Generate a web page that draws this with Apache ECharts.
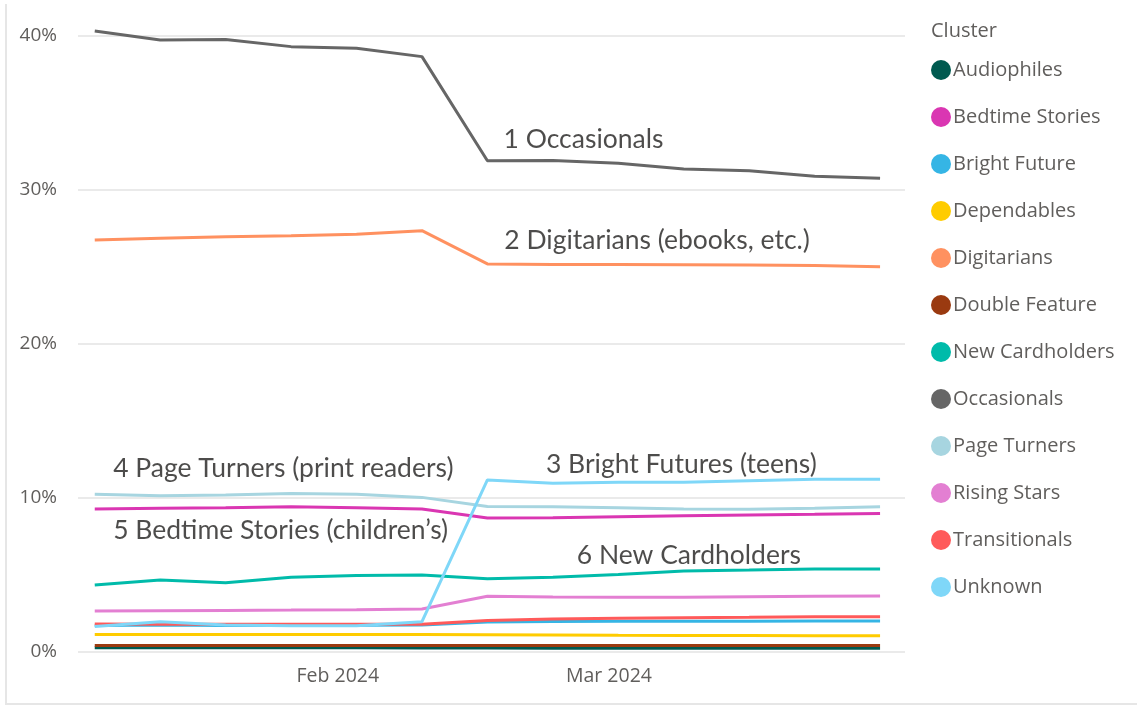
<!DOCTYPE html>
<html>
<head>
<meta charset="utf-8">
<script src="https://cdn.jsdelivr.net/npm/echarts@6/dist/echarts.min.js"></script>
<style>
  html, body { margin: 0; padding: 0; background: #fff; }
  #chart { width: 1137px; height: 706px; }
</style>
</head>
<body>
<div id="chart"></div>
<script>
// weekly dates
const weeks = ['2024-01-06', '2024-01-13', '2024-01-20', '2024-01-27', '2024-02-03', '2024-02-10',
    '2024-02-17', '2024-02-24', '2024-03-02', '2024-03-09', '2024-03-16', '2024-03-23', '2024-03-30'];

const clusters = ['Audiophiles', 'Bedtime Stories', 'Bright Future', 'Dependables', 'Digitarians',
    'Double Feature', 'New Cardholders', 'Occasionals', 'Page Turners', 'Rising Stars', 'Transitionals', 'Unknown'];

const colors = ['#005A50', '#DA36B2', '#35B5E5', '#FFCC00', '#FF9160', '#9A3A10',
    '#00BBAA', '#666666', '#A7D5E0', '#E37FD2', '#FF5A5A', '#7FD7F8'];

// share of members, percent
const audiophiles = [0.28, 0.27, 0.27, 0.27, 0.27, 0.26, 0.26, 0.25, 0.25, 0.25, 0.25, 0.25, 0.25];
const bedtimeStories = [9.29, 9.33, 9.37, 9.43, 9.37, 9.29, 8.7, 8.72, 8.79, 8.85, 8.9, 8.94, 9.0];
const brightFuture = [1.72, 1.75, 1.72, 1.72, 1.73, 1.76, 1.95, 1.98, 2.0, 2.0, 2.0, 2.02, 2.02];
const dependables = [1.13, 1.13, 1.13, 1.13, 1.13, 1.13, 1.12, 1.1, 1.08, 1.07, 1.07, 1.06, 1.06];
const digitarians = [26.75, 26.86, 26.97, 27.03, 27.12, 27.36, 25.2, 25.17, 25.17, 25.15, 25.13, 25.09, 25.02];
const doubleFeature = [0.42, 0.42, 0.42, 0.42, 0.42, 0.42, 0.42, 0.42, 0.42, 0.42, 0.42, 0.42, 0.42];
const newCardholders = [4.35, 4.68, 4.5, 4.85, 4.96, 5.0, 4.76, 4.85, 5.04, 5.26, 5.32, 5.39, 5.39];
const occasionals = [40.32, 39.74, 39.78, 39.31, 39.2, 38.66, 31.9, 31.92, 31.73, 31.36, 31.25, 30.9, 30.76];
const pageTurners = [10.24, 10.15, 10.19, 10.3, 10.24, 10.04, 9.45, 9.43, 9.37, 9.29, 9.27, 9.33, 9.43];
const risingStars = [2.66, 2.68, 2.7, 2.72, 2.75, 2.79, 3.62, 3.57, 3.55, 3.56, 3.59, 3.62, 3.64];
const transitionals = [1.82, 1.8, 1.8, 1.8, 1.8, 1.8, 2.05, 2.14, 2.19, 2.23, 2.25, 2.29, 2.29];
const unknown = [1.65, 1.97, 1.75, 1.71, 1.71, 1.97, 11.17, 10.95, 11.02, 11.02, 11.12, 11.21, 11.21];

const values = [audiophiles, bedtimeStories, brightFuture, dependables, digitarians, doubleFeature,
    newCardholders, occasionals, pageTurners, risingStars, transitionals, unknown];

// x-axis labels
const monthTicks = ['2024-02-01', '2024-03-01'];
const monthLabels = ['Feb 2024', 'Mar 2024'];

// callouts: [date, percent, text]
const callouts = [
    ['2024-02-18 16:00', 33.3, '1 Occasionals'],
    ['2024-02-18 18:00', 26.75, '2 Digitarians (ebooks, etc.)'],
    ['2024-02-23 05:00', 12.15, '3 Bright Futures (teens)'],
    ['2024-01-07 22:00', 11.95, '4 Page Turners (print readers)'],
    ['2024-01-07 22:00', 7.92, '5 Bedtime Stories (children\u2019s)'],
    ['2024-02-26 12:00', 6.3, '6 New Cardholders']
];

const uiFont = '"Open Sans", "Noto Sans", sans-serif';

function ts(s) {
    return new Date(s.length === 10 ? s + 'T00:00:00' : s.replace(' ', 'T') + ':00').getTime();
}

document.addEventListener("DOMContentLoaded", () => {
    var chart = echarts.init(document.querySelector("#chart"));
    var tickTimes = monthTicks.map(ts);

    var series = clusters.map((name, i) => ({
        name: name,
        type: 'line',
        data: weeks.map((d, j) => [ts(d), values[i][j]]),
        symbol: 'none',
        clip: false,
        lineStyle: { width: 3, color: colors[i] },
        itemStyle: { color: colors[i] }
    }));

    series.push({
        name: 'callouts',
        type: 'scatter',
        silent: true,
        symbolSize: 1,
        itemStyle: { color: 'rgba(0,0,0,0)' },
        data: callouts.map(c => ({ value: [ts(c[0]), c[1]], name: c[2] })),
        label: {
            show: true,
            position: 'right',
            distance: 0,
            formatter: p => p.name,
            fontFamily: 'Lato, sans-serif',
            fontSize: 26.5,
            color: '#201F1E'
        },
        z: 5
    });

    chart.setOption({
        animation: false,
        title: {
            text: 'Cluster',
            left: 926,
            top: 16,
            textStyle: { fontFamily: uiFont, fontSize: 20, fontWeight: 'normal', color: '#605E5C' }
        },
        legend: {
            data: clusters,
            orient: 'vertical',
            left: 926,
            top: 55,
            icon: 'circle',
            itemWidth: 20,
            itemHeight: 20,
            itemGap: 27,
            textStyle: { fontFamily: uiFont, fontSize: 20, lineHeight: 20, color: '#605E5C', padding: [0, 0, 0, -3] }
        },
        grid: {
            left: 78,
            right: 232,
            top: 36,
            bottom: 54,
            containLabel: false
        },
        xAxis: {
            type: 'value',
            min: ts('2024-01-04 05:00'),
            max: ts('2024-04-01 16:00'),
            axisLine: { show: false },
            axisTick: { show: false },
            splitLine: { show: false },
            axisLabel: {
                customValues: tickTimes,
                formatter: (v) => monthLabels[tickTimes.indexOf(v)] || '',
                fontFamily: uiFont,
                fontSize: 19.5,
                color: '#605E5C',
                margin: 14
            }
        },
        yAxis: {
            type: 'value',
            min: 0,
            max: 40,
            interval: 10,
            axisLine: { show: false },
            axisTick: { show: false },
            axisLabel: {
                formatter: '{value}%',
                fontFamily: uiFont,
                fontSize: 19,
                color: '#605E5C',
                margin: 21
            },
            splitLine: { lineStyle: { color: '#EAEAEA', width: 2 } }
        },
        graphic: [{
            type: 'polyline',
            shape: { points: [[6, 4], [6, 704], [1137, 704]] },
            style: { stroke: '#E6E6E6', lineWidth: 2, fill: null }
        }],
        series: series
    });
});
</script>
</body>
</html>
